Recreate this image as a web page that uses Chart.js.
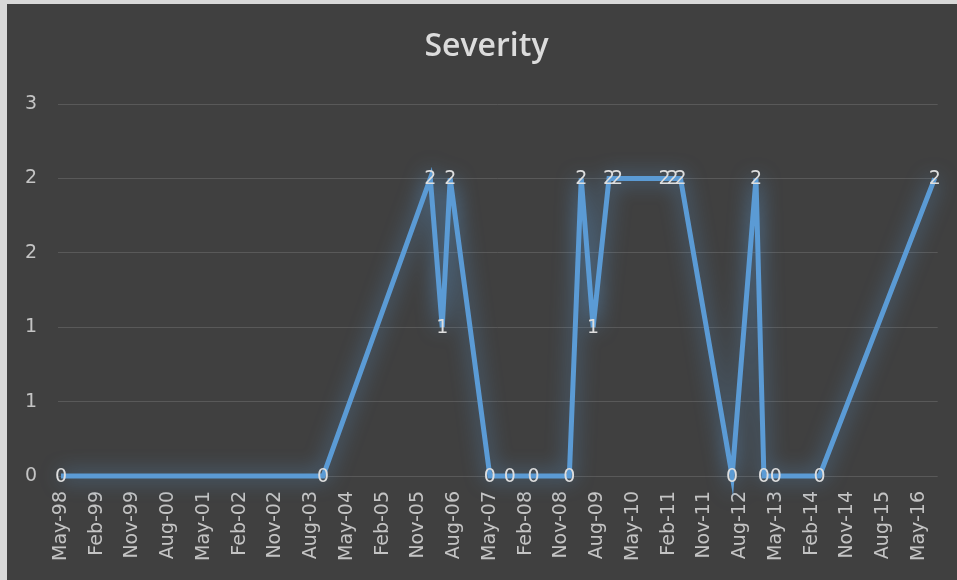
<!DOCTYPE html>
<html>
<head>
<meta charset="utf-8">
<script src="https://cdn.jsdelivr.net/npm/chart.js@4/dist/chart.umd.min.js"></script>
<style>
  html, body { margin: 0; padding: 0; background: #d9d9d9; width: 957px; height: 580px; overflow: hidden; }
  #wrap { position: absolute; left: 7px; top: 4px; width: 950px; height: 576px; background: #404040; }
  canvas { display: block; }
</style>
</head>
<body>
<div id="wrap"><canvas id="chart" width="950" height="576"></canvas></div>
<script>
// Severity readings by month
const dates = ['1998-05', '2003-11', '2006-02', '2006-05', '2006-07', '2007-05', '2007-10',
               '2008-04', '2009-01', '2009-04', '2009-07', '2009-11', '2010-01', '2011-01',
               '2011-03', '2011-05', '2012-06', '2012-12', '2013-02', '2013-05', '2014-04',
               '2016-09'];
const severity = [0, 0, 2, 1, 2, 0, 0, 0, 0, 2, 1, 2, 2, 2, 2, 2, 0, 2, 0, 0, 0, 2];
const monthNames = ['Jan', 'Feb', 'Mar', 'Apr', 'May', 'Jun', 'Jul', 'Aug', 'Sep', 'Oct', 'Nov', 'Dec'];
const chartTitle = 'Severity';

// Months are counted from May 1998
const START_YEAR = 1998, START_MONTH = 4;
function monthIndex(s) {
  const [y, m] = s.split('-').map(Number);
  return (y - START_YEAR) * 12 + (m - 1) - START_MONTH;
}
function monthLabel(i) {
  const t = START_MONTH + Math.round(i);
  const y = START_YEAR + Math.floor(t / 12);
  return monthNames[t % 12] + '-' + String(y % 100).padStart(2, '0');
}

const points = dates.map((d, i) => ({ x: monthIndex(d), y: severity[i] }));

const LABEL_FONT = 'DejaVu Sans';

// Soft blue halo around the line
const glow = {
  id: 'glow',
  beforeDatasetsDraw(chart) {
    const ctx = chart.ctx;
    ctx.save();
    ctx.shadowColor = 'rgba(91,155,213,0.75)';
    ctx.shadowBlur = 20;
  },
  afterDatasetsDraw(chart) {
    chart.ctx.restore();
  }
};

// Value labels centred on each point
const valueLabels = {
  id: 'valueLabels',
  afterDatasetsDraw(chart) {
    const ctx = chart.ctx;
    ctx.save();
    ctx.font = '19px "' + LABEL_FONT + '"';
    ctx.fillStyle = '#dedede';
    ctx.textAlign = 'center';
    ctx.textBaseline = 'middle';
    chart.getDatasetMeta(0).data.forEach((pt, i) => {
      ctx.fillText(String(Math.round(severity[i])), pt.x, pt.y + 1);
    });
    ctx.restore();
  }
};

// Heading, set a little right of the canvas centre like the chart frame it sits in
const heading = {
  id: 'heading',
  afterDraw(chart) {
    const ctx = chart.ctx;
    ctx.save();
    ctx.font = '600 32px "Open Sans"';
    ctx.fillStyle = '#dcdcdc';
    ctx.textAlign = 'center';
    ctx.textBaseline = 'middle';
    ctx.fillText(chartTitle, chart.width / 2 + 4.5, 43);
    ctx.restore();
  }
};

new Chart(document.getElementById('chart'), {
  type: 'line',
  data: {
    datasets: [{
      data: points,
      borderColor: '#5b9bd5',
      borderWidth: 5,
      tension: 0,
      pointRadius: 0,
      borderJoinStyle: 'miter',
      clip: false
    }]
  },
  options: {
    responsive: false,
    animation: false,
    layout: { padding: { left: 0, right: 19, top: 100, bottom: 0 } },
    plugins: {
      legend: { display: false },
      tooltip: { enabled: false },
      title: { display: false }
    },
    scales: {
      x: {
        type: 'linear',
        min: -0.75,
        max: 220.75,
        grid: { display: false, drawTicks: false },
        border: { display: false },
        afterFit(scale) { scale.height = 104; },
        ticks: {
          stepSize: 9,
          includeBounds: false,
          autoSkip: false,
          minRotation: 90,
          maxRotation: 90,
          padding: 15,
          color: '#c4c4c4',
          font: { family: LABEL_FONT, size: 19 },
          callback: (v) => monthLabel(v)
        }
      },
      y: {
        min: 0,
        max: 2.5,
        grid: { color: '#595959', lineWidth: 1, drawTicks: false },
        border: { display: false },
        afterFit(scale) { scale.width = 51; },
        ticks: {
          stepSize: 0.5,
          padding: 21,
          color: '#c4c4c4',
          font: { family: LABEL_FONT, size: 19 },
          callback: (v) => String(Math.round(v))
        }
      }
    }
  },
  plugins: [glow, valueLabels, heading]
});
</script>
</body>
</html>
